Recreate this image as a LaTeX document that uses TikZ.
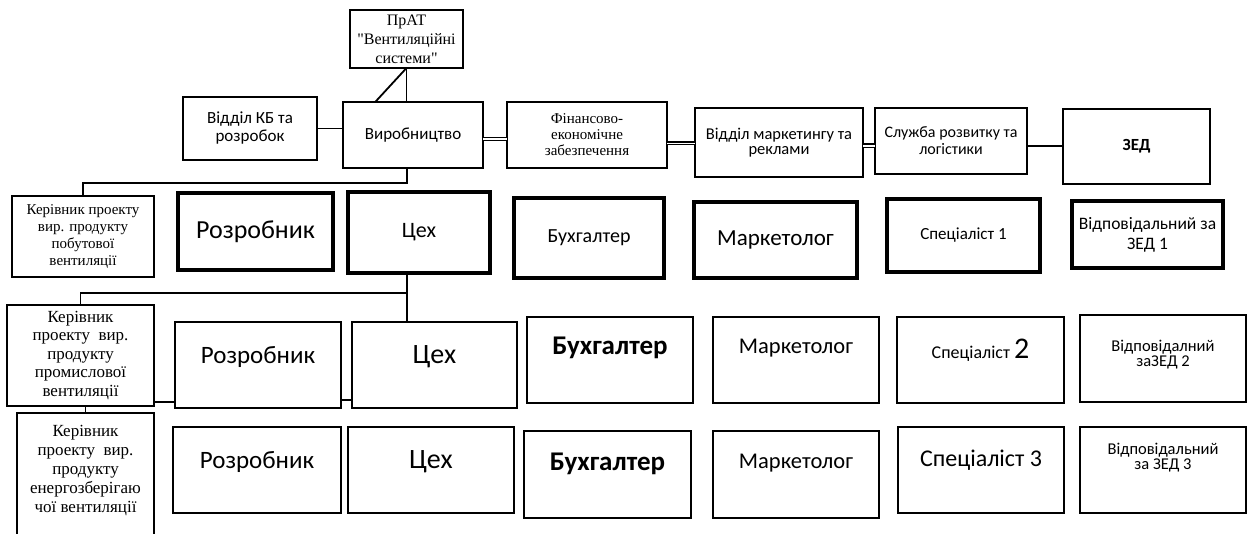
\documentclass[tikz,border=0pt]{standalone}
\usepackage{fontspec}
\setmainfont{Carlito}
\newfontfamily\fsans{Carlito}
\newfontfamily\fser{Liberation Serif}
\usetikzlibrary{calc}
\newcommand\fsz[2]{\fontsize{#1}{#2}\selectfont}

\tikzset{
  box/.style={draw, line width=1.8pt, inner sep=1pt, outer sep=0pt, align=center, font=\fsans},
  heavy/.style={box, line width=3.2pt},
  wh/.style 2 args={minimum width=#1, minimum height=#2},
  conn/.style={line width=1.8pt},
  lift/.style={yshift=#1, align=center},
}

\begin{document}
\begin{tikzpicture}[x=1pt, y=-1pt]
\useasboundingbox (0,0) rectangle (1249,533);
\fill[white] (0,0) rectangle (1249,533);
\clip (0,0) rectangle (1249,533);

% ---------- management level ----------
\node[box, wh={113pt}{58pt}, line width=2.2pt, font=\fser\fsz{16}{19}] (prat) at (406.5,39) {ПрАТ\\"Вентиляційні\\системи"};
\node[box, wh={134pt}{63pt}, font=\fsans\fsz{17}{18}] (kb) at (250,128.5) {Відділ КБ та\\розробок};
\node[box, wh={140pt}{66pt}, font=\fsans\fsz{17}{18}] (vyr) at (413,135) {Виробництво};
\node[box, wh={160pt}{66pt}, font=\fser\fsz{15}{16}] (fin) at (587,135) {Фінансово-\\економічне\\забезпечення};
\node[box, wh={168pt}{69pt}, font=\fsans\fsz{16.5}{15}] (mark) at (779,142.5) {Відділ маркетингу та\\реклами};
\node[box, wh={152pt}{66pt}, font=\fsans\fsz{16}{17}] (sluzh) at (951,141) {Служба розвитку та\\логістики};
\node[box, wh={147pt}{75pt}, font=\fsans\bfseries\fsz{17}{18}] (zed) at (1136.5,146.5) {ЗЕД};

% ---------- first product line ----------
\node[box, wh={142pt}{81pt}, font=\fser\fsz{15}{17}] (ker1) at (83,236.5) {Керівник проекту\\вир. продукту\\побутової\\вентиляції};
\node[heavy, wh={155pt}{77pt}, font=\fsans\fsz{26}{28}] (roz1) at (255.5,231.5) {Розробник};
\node[heavy, wh={142pt}{81pt}, font=\fsans\fsz{22}{28}] (tseh1) at (419,232.5) {Цех};
\node[heavy, wh={150pt}{80pt}, font=\fsans\fsz{20}{26}] (buh1) at (589,238) {Бухгалтер};
\node[heavy, wh={163pt}{76pt}, font=\fsans\fsz{23}{26}] (mkt1) at (775.5,240) {Маркетолог};
\node[heavy, wh={153pt}{73pt}, font=\fsans\fsz{17}{20}] (sp1) at (963.5,235.5) {Спеціаліст 1};
\node[heavy, wh={151pt}{67pt}, font=\fsans\fsz{17.5}{20}] (vid1) at (1147.5,234.5) {Відповідальний за\\ЗЕД 1};

% ---------- second product line ----------
\node[box, wh={147pt}{101pt}, font=\fser\fsz{17}{18.5}] (ker2) at (80.5,355.5) {Керівник\\проекту\ \ вир.\\продукту\\промислової\\вентиляції};
\node[box, wh={166pt}{86pt}, label={[lift=8pt, font=\fsans\fsz{25}{28}]center:Розробник}] (roz2) at (258,365) {};
\node[box, wh={165pt}{86pt}, label={[lift=8pt, font=\fsans\fsz{28}{30}]center:Цех}] (tseh2) at (434.5,365) {};
\node[box, wh={166pt}{86pt}, label={[lift=12pt, font=\fsans\bfseries\fsz{27}{28}]center:Бухгалтер}] (buh2) at (610,360) {};
\node[box, wh={166pt}{86pt}, label={[lift=12pt, font=\fsans\fsz{22.5}{26}]center:Маркетолог}] (mkt2) at (796,360) {};
\node[box, wh={167pt}{86pt}, label={[lift=10pt, font=\fsans\fsz{18}{26}]center:Спеціаліст {\fsz{30}{30}2}}] (sp2) at (980.5,360) {};
\node[box, wh={166pt}{87pt}, label={[lift=4pt, font=\fsans\fsz{16.5}{15}]center:Відповідалний\\заЗЕД 2}] (vid2) at (1163,358.5) {};

% ---------- third product line ----------
\node[box, wh={137pt}{132pt}, label={[lift=8.5pt, font=\fser\fsz{17}{18.8}]center:Керівник\\проекту\ \ вир.\\продукту\\енергозберігаю\\чої вентиляції}] (ker3) at (85.5,479) {};
\node[box, wh={168pt}{86pt}, label={[lift=8pt, font=\fsans\fsz{25}{28}]center:Розробник}] (roz3) at (257,470) {};
\node[box, wh={166pt}{86pt}, label={[lift=8pt, font=\fsans\fsz{28}{30}]center:Цех}] (tseh3) at (431,470) {};
\node[box, wh={167pt}{87pt}, label={[lift=11pt, font=\fsans\bfseries\fsz{27}{28}]center:Бухгалтер}] (buh3) at (607.5,474.5) {};
\node[box, wh={166pt}{87pt}, label={[lift=11pt, font=\fsans\fsz{22.5}{26}]center:Маркетолог}] (mkt3) at (796,474.5) {};
\node[box, wh={166pt}{86pt}, label={[lift=10pt, font=\fsans\fsz{24}{26}]center:Спеціаліст 3}] (sp3) at (981,470) {};
\node[box, wh={166pt}{86pt}, label={[lift=12pt, font=\fsans\fsz{16.5}{15}]center:Відповідальний\\за ЗЕД 3}] (vid3) at (1163,470) {};

% ---------- connectors ----------
\coordinate (j1) at (407,183);
\coordinate (j2) at (407,293);

\draw[conn] (prat.south) -- (prat.south |- vyr.north);
\draw[conn] (prat.south) -- ($(vyr.north west)!0.23!(vyr.north east)$);
\draw[conn] (kb.east) -- (kb.east -| vyr.west);
\draw[double, double distance=2.2pt, line width=1.1pt] ([yshift=-4pt]vyr.east) -- ([yshift=-4pt]fin.west);
\draw[double, double distance=1pt, line width=1.7pt] ([yshift=-8pt]fin.east) -- ([yshift=-8pt]fin.east -| mark.west);
\draw[double, double distance=2pt, line width=1.1pt] ([yshift=-3pt]mark.east) -- ([yshift=-3pt]mark.east -| sluzh.west);
\draw[conn] ([yshift=-5pt]sluzh.east) -- ([yshift=-5pt]sluzh.east -| zed.west);

\draw[conn] (vyr.south -| j1) -- (j1) -| (ker1.north);
\draw[conn] (tseh1.south -| j2) -- (j2) -| (ker2.north);
\draw[conn] (j2) -- (j2 |- tseh2.north);
\draw[conn] ([yshift=4pt]ker2.south east) -- ([yshift=4pt]ker2.south east -| roz2.west);
\draw[conn] ([yshift=8pt]roz2.south east) -- ([yshift=8pt]roz2.south east -| tseh2.west);
\draw[conn] (ker3.north) -- (ker3.north |- ker2.south);
\end{tikzpicture}
\end{document}
